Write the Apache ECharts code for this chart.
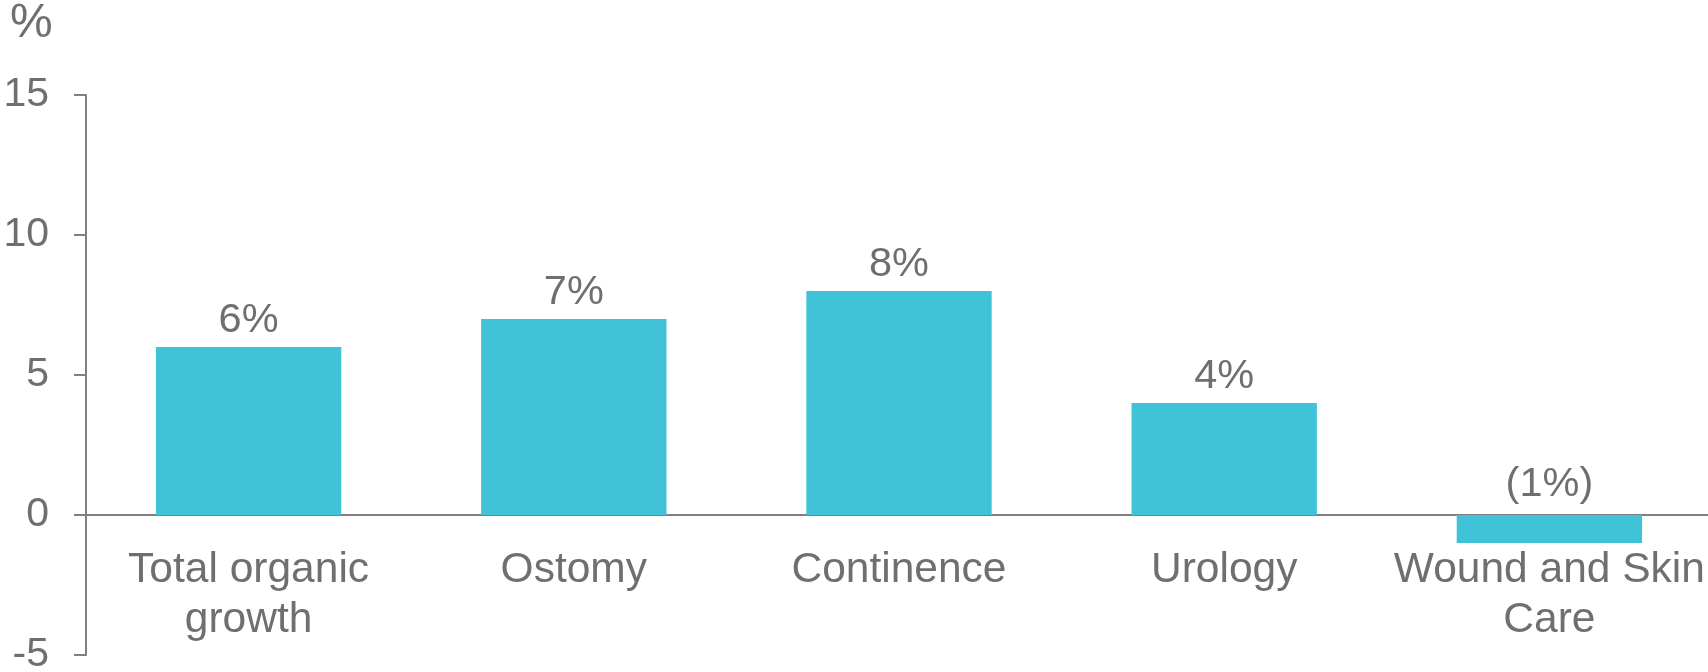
<!DOCTYPE html>
<html>
<head>
<meta charset="utf-8">
<script src="https://cdn.jsdelivr.net/npm/echarts@6/dist/echarts.min.js"></script>
<style>
html,body{margin:0;padding:0;background:#fff;}
#c{width:1708px;height:672px;}
</style>
</head>
<body>
<div id="c"></div>
<script>
const categories = ["Total organic\ngrowth", "Ostomy", "Continence", "Urology", "Wound and Skin\nCare"];
const values = [6, 7, 8, 4, -1];
const yTicks = { min: -5, max: 15, interval: 5 };
const unitLabel = "%";

const FONT = "'Liberation Sans', Arial, sans-serif";
const GRAY = "#6f6f6f";
const AXIS = "#808080";
const BAR = "#41c3d7";

const seriesData = values.map(v => v < 0 ? { value: v, label: { offset: [0, -4] } } : v);

const chart = echarts.init(document.getElementById('c'), null, {renderer: 'canvas'});
chart.setOption({
  animation: false,
  backgroundColor: '#fff',
  textStyle: { fontFamily: FONT },
  graphic: [{
    type: 'text', left: 10, top: 0,
    style: { text: unitLabel, fontSize: 48, fontFamily: FONT, fill: GRAY }
  }],
  grid: { left: 86, top: 95, bottom: 17, right: -4, containLabel: false, outerBoundsMode: 'none' },
  xAxis: {
    type: 'category',
    data: categories,
    axisLine: { show: true, onZero: true, lineStyle: { color: AXIS, width: 2 } },
    axisTick: { show: false },
    axisLabel: { interval: 0, color: GRAY, fontSize: 42.5, lineHeight: 50, margin: -110, fontFamily: FONT }
  },
  yAxis: {
    type: 'value',
    min: yTicks.min, max: yTicks.max, interval: yTicks.interval,
    splitLine: { show: false },
    axisLine: { show: true, lineStyle: { color: AXIS, width: 2 } },
    axisTick: { show: true, length: 12, lineStyle: { color: AXIS, width: 2 } },
    axisLabel: { color: GRAY, fontSize: 41, margin: 37, fontFamily: FONT, padding: [4, 0, 0, 0] }
  },
  series: [{
    type: 'bar',
    data: seriesData,
    barWidth: '57%',
    itemStyle: { color: BAR },
    label: {
      show: true, position: 'top', distance: 5,
      color: GRAY, fontSize: 41.5, fontFamily: FONT,
      formatter: p => p.value < 0 ? '(' + Math.abs(p.value) + '%)' : p.value + '%'
    }
  }]
});
</script>
</body>
</html>
